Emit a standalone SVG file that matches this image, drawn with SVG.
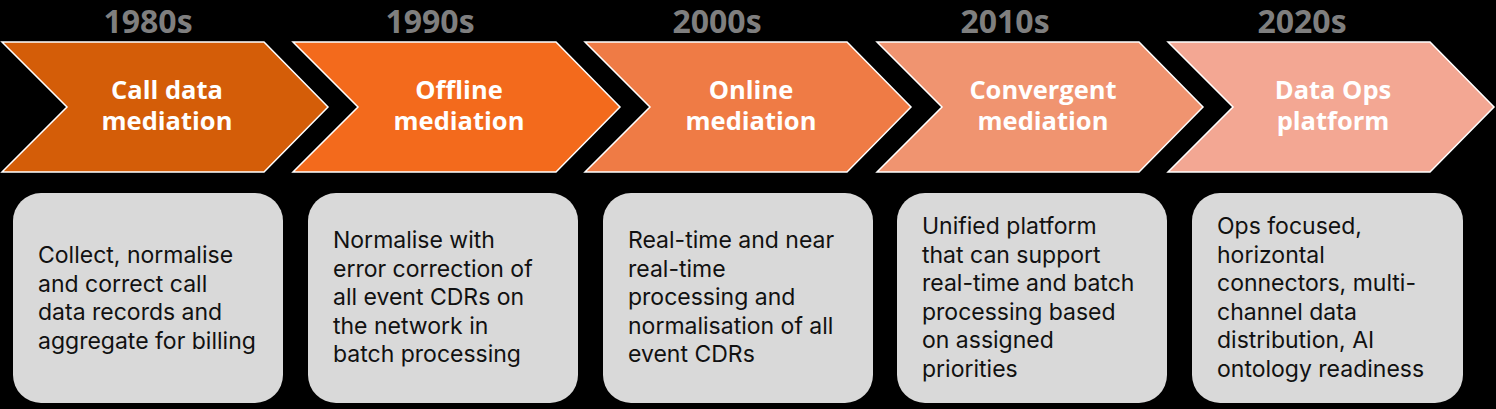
<svg xmlns="http://www.w3.org/2000/svg" width="1496" height="409" viewBox="0 0 1496 409">
<style>
.bg{fill:#000}
.chev{stroke:#fff;stroke-width:1.5;stroke-linejoin:miter}
.dec{font-family:"Open Sans",sans-serif;font-weight:700;font-size:32px;fill:#7f7f7f;text-anchor:middle}
.ttl{font-family:"Open Sans",sans-serif;font-weight:700;font-size:25.5px;fill:#fff;text-anchor:middle}
.box{fill:#d9d9d9}
.txt{font-family:Inter,"Open Sans",sans-serif;font-size:23px;fill:#111}
</style>
<rect class="bg" x="0" y="0" width="1496" height="409"/>
<g id="era-1980s">
<text class="dec" x="148" y="33">1980s</text>
<path class="chev" fill="#d45d08" d="M2,42 H264 L328,107 L264,172 H2 L67,107 Z"/>
<text class="ttl" x="167" y="99">Call data</text>
<text class="ttl" x="167" y="130">mediation</text>
<rect class="box" x="13" y="193" width="270" height="210" rx="28"/>
<text class="txt"><tspan x="38" y="263">Collect, normalise</tspan><tspan x="38" y="291.5">and correct call</tspan><tspan x="38" y="320">data records and</tspan><tspan x="38" y="348.5">aggregate for billing</tspan></text>
</g>
<g id="era-1990s">
<text class="dec" x="430" y="33">1990s</text>
<path class="chev" fill="#f36a1c" d="M293,42 H556 L620,107 L556,172 H293 L358,107 Z"/>
<text class="ttl" x="459" y="99">Offline</text>
<text class="ttl" x="459" y="130">mediation</text>
<rect class="box" x="308" y="193" width="270" height="210" rx="28"/>
<text class="txt"><tspan x="333" y="248">Normalise with</tspan><tspan x="333" y="276.5">error correction of</tspan><tspan x="333" y="305">all event CDRs on</tspan><tspan x="333" y="333.5">the network in</tspan><tspan x="333" y="362">batch processing</tspan></text>
</g>
<g id="era-2000s">
<text class="dec" x="717" y="33">2000s</text>
<path class="chev" fill="#ef7b45" d="M585,42 H847 L911,107 L847,172 H585 L650,107 Z"/>
<text class="ttl" x="751" y="99">Online</text>
<text class="ttl" x="751" y="130">mediation</text>
<rect class="box" x="603" y="193" width="270" height="210" rx="28"/>
<text class="txt"><tspan x="628" y="248">Real-time and near</tspan><tspan x="628" y="276.5">real-time</tspan><tspan x="628" y="305">processing and</tspan><tspan x="628" y="333.5">normalisation of all</tspan><tspan x="628" y="362">event CDRs</tspan></text>
</g>
<g id="era-2010s">
<text class="dec" x="1005" y="33">2010s</text>
<path class="chev" fill="#f09470" d="M877,42 H1139 L1203,107 L1139,172 H877 L942,107 Z"/>
<text class="ttl" x="1043" y="99">Convergent</text>
<text class="ttl" x="1043" y="130">mediation</text>
<rect class="box" x="897" y="193" width="270" height="210" rx="28"/>
<text class="txt"><tspan x="922" y="234">Unified platform</tspan><tspan x="922" y="262.5">that can support</tspan><tspan x="922" y="291">real-time and batch</tspan><tspan x="922" y="319.5">processing based</tspan><tspan x="922" y="348">on assigned</tspan><tspan x="922" y="376.5">priorities</tspan></text>
</g>
<g id="era-2020s">
<text class="dec" x="1302" y="33">2020s</text>
<path class="chev" fill="#f3a793" d="M1168,42 H1430 L1494,107 L1430,172 H1168 L1233,107 Z"/>
<text class="ttl" x="1333" y="99">Data Ops</text>
<text class="ttl" x="1333" y="130">platform</text>
<rect class="box" x="1192" y="193" width="271" height="210" rx="28"/>
<text class="txt"><tspan x="1217" y="234">Ops focused,</tspan><tspan x="1217" y="262.5">horizontal</tspan><tspan x="1217" y="291">connectors, multi-</tspan><tspan x="1217" y="319.5">channel data</tspan><tspan x="1217" y="348">distribution, AI</tspan><tspan x="1217" y="376.5">ontology readiness</tspan></text>
</g>
<g id="connectors"/>
</svg>
